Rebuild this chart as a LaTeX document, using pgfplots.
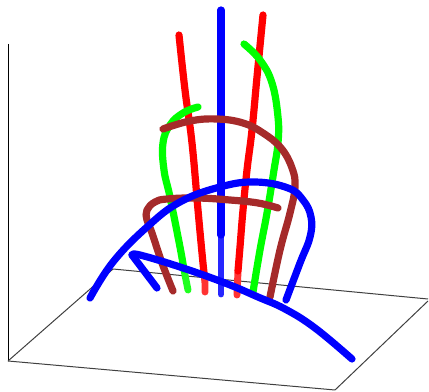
\documentclass[border=0pt]{standalone}
\usepackage{pgfplots}
\pgfplotsset{compat=1.18}
\definecolor{archbrown}{RGB}{165,42,42}
\begin{document}
\begin{tikzpicture}[x=1pt,y=1pt]
\path[use as bounding box] (0,0) rectangle (321.75pt,294pt);
\begin{axis}[at={(0,0)},anchor=south west,scale only axis,width=321.75pt,height=294pt,
  xmin=0,xmax=429,ymin=0,ymax=392,y dir=reverse,hide axis,clip=true,
  frame/.style={black!75,line width=0.75pt,forget plot},
  curve/.style={line width=5.4pt,line cap=round,line join=round,smooth,tension=0.7,forget plot},
  low/.style={line width=5.2pt,line cap=round,forget plot}]
% box
\addplot[frame,black] coordinates {(8,44) (8,361)};
\addplot[frame] coordinates {(8,361) (113,269)};
\addplot[frame] coordinates {(113,269) (428,299)};
\addplot[frame] coordinates {(8,361) (335,390)};
\addplot[frame] coordinates {(335,390) (428,301)};
% red
\addplot[low,red!80] coordinates {(204,273) (205,283) (205,292)};
\addplot[curve,red] coordinates {(179,35) (185,90) (192,143) (198,210) (202,253) (204,273)};
\addplot[low,red!80] coordinates {(238,271) (237.5,283) (237,295)};
\addplot[curve,red] coordinates {(263,15) (257,77) (252,130) (247,170) (243,210) (240,247) (238,271)};
% centre
\addplot[low,blue!85] coordinates {(221,235) (221,294)};
\addplot[curve,blue] coordinates {(221,10) (221,100) (221,235)};
% green
\addplot[low,green!88] coordinates {(184,270) (188,290)};
\addplot[curve,green] coordinates {(198,107) (183,113) (170,125) (163,143) (164,170) (170,197) (180,247) (184,270)};
\addplot[curve,green] coordinates {(244,44) (260,60) (272,83) (278,117) (278,143) (274,170) (267,213) (260,250) (253,292)};
% brown
\addplot[curve,archbrown] coordinates {(163,129) (190,121) (217,119) (243,123) (263,133) (281,148) (292,168) (295,187) (290,213) (280,250) (270,297)};
\addplot[curve,archbrown] coordinates {(173,291) (162,263) (152,233) (147,220) (147,210) (155,202) (167,199) (197,198) (230,200) (258,203) (278,208)};
% blue arcs
\addplot[curve,blue] coordinates {(90,298) (113,262) (147,227) (180,202) (220,187) (255,182) (288,188) (303,200) (311,217) (310,237) (300,263) (286,300)};
\addplot[curve,blue] coordinates {(157,288) (132,255)};
\addplot[curve,blue] coordinates {(132,255) (140,255) (180,267) (225,283) (258,297) (285,309) (315,328) (352,359)};
\end{axis}
\end{tikzpicture}
\end{document}
